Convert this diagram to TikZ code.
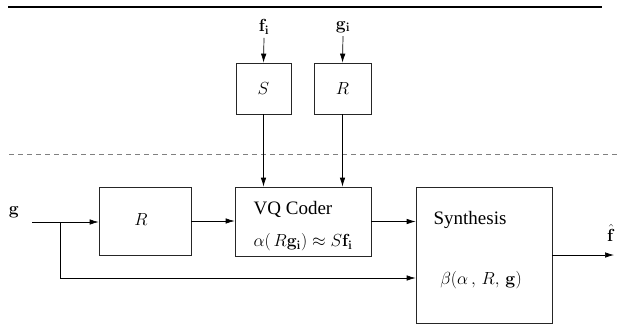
\documentclass[tikz,border=0pt]{standalone}
\usepackage{fix-cm}
\usepackage{amsmath}
\usepackage[no-math]{fontspec}
\setmainfont{Liberation Serif}
\usetikzlibrary{arrows.meta,calc}

\tikzset{
    blk/.style={draw=black!85, line width=0.7pt, inner sep=0pt},
    txt/.style={font=\fontsize{19}{22}\selectfont},
    mth/.style={font=\fontsize{17.5}{20}\selectfont},
    sig/.style={line width=0.7pt, -{Latex[length=9pt,width=5.5pt]}},
}

\begin{document}
\begin{tikzpicture}[x=1pt, y=-1pt]
    % Fix the size of the picture
    \useasboundingbox (0,0) rectangle (617,327);

    % Upper rule and the dashed divider
    \draw[line width=2pt] (8,7) -- (602,7);
    \draw[gray, line width=1pt, dash pattern=on 5pt off 4pt] (9,154) -- (617,154);

    % Blocks of the training part
    \node[blk, minimum width=55pt, minimum height=51pt] (S) at (263.5,88.5) {};
    \node[mth] at (S) {$S$};
    \node[blk, minimum width=57pt, minimum height=51pt] (Rtop) at (342.5,88.5) {};
    \node[mth] at (Rtop) {$R$};

    % Blocks of the coding part
    \node[blk, minimum width=92pt, minimum height=68pt] (Rlow) at (145,221) {};
    \node[mth] at (141,220) {$R$};
    \node[blk, minimum width=136pt, minimum height=69pt] (VQ) at (303,221.5) {};
    \node[txt] (vqname) at (293,209) {VQ Coder};
    \node[mth] (vqmap) at (303,242) {$\alpha(\,R\mathbf{g}_{\mathbf{i}})\approx S\mathbf{f}_{\mathbf{i}}$};
    \node[blk, minimum width=136pt, minimum height=136pt] (Syn) at (484,255) {};
    \node[txt] (synname) at (470,220) {Synthesis};
    \node[mth] (synmap) at (481,280) {$\beta(\alpha\,,\,R,\,\mathbf{g})$};

    % Inputs and output
    \node[mth] (fi) at (264,27) {$\mathbf{f}_{\mathbf{i}}$};
    \node[mth] (gi) at (343,27) {$\mathbf{g}_{\mathbf{i}}$};
    \node[mth] (g) at (14,212) {$\mathbf{g}$};
    \node[mth, inner sep=1pt] (fhat) at (611,233) {$\hat{\mathbf{f}}$};
    \coordinate (in) at (32,222);
    \coordinate (br) at (60,222);
    \coordinate (out) at (614,255);

    % Connections
    \draw[sig] (fi.south) -- (S.north);
    \draw[sig] (gi.south) -- (Rtop.north);
    \draw[sig] (S.south) -- (S.south |- VQ.north);
    \draw[sig] (Rtop.south) -- (Rtop.south |- VQ.north);
    \draw[sig] (in) -- (in -| Rlow.west);
    \draw[sig] (Rlow.east) -- (Rlow.east -| VQ.west);
    \draw[sig] (VQ.east) -- (VQ.east -| Syn.west);
    \draw[sig] (br) |- ([yshift=-23pt]Syn.west);
    \draw[sig] (Syn.east) -- (out);
\end{tikzpicture}
\end{document}
